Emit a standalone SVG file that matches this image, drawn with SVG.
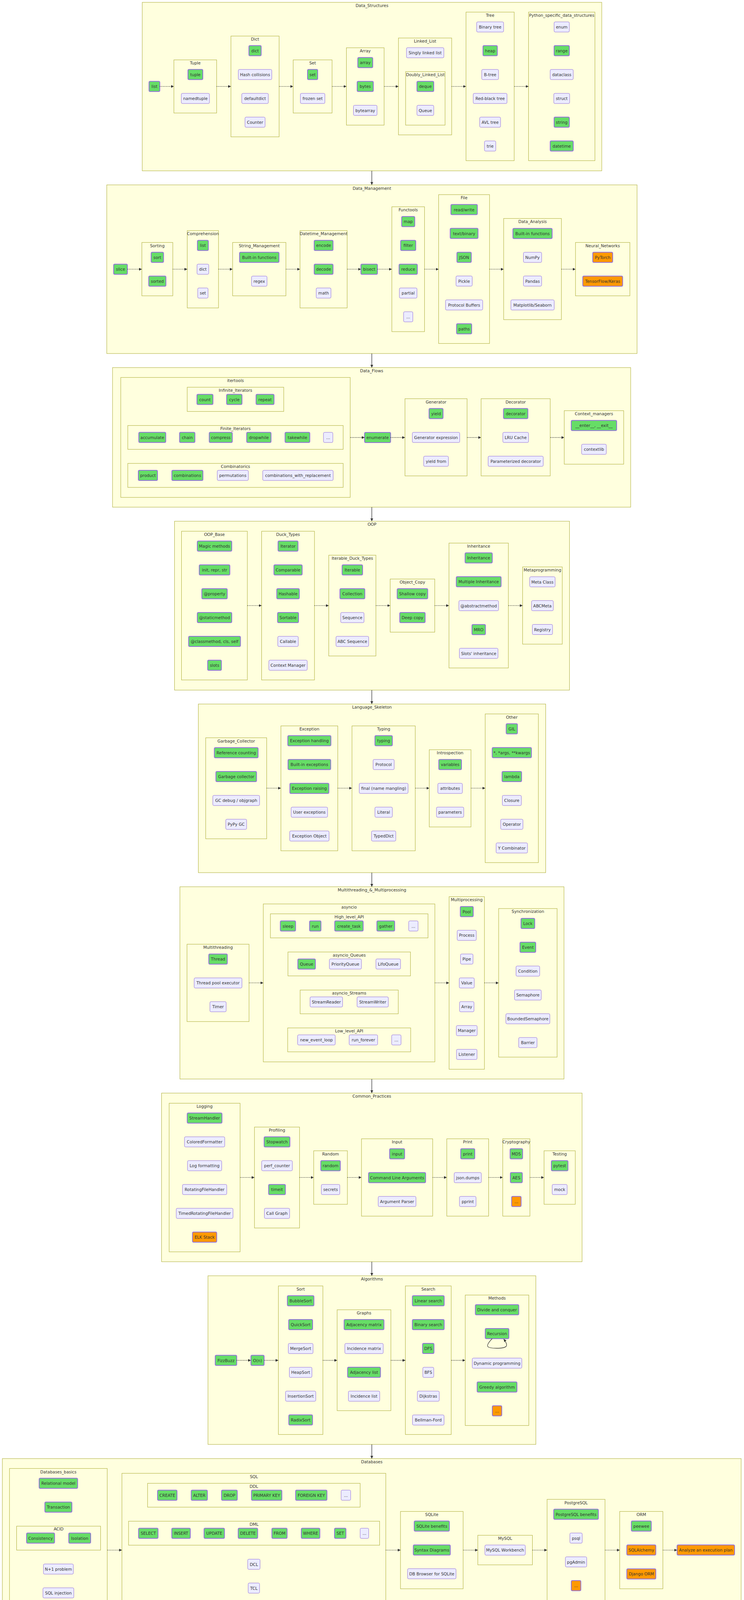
<svg xmlns="http://www.w3.org/2000/svg" width="1904" height="5794" viewBox="0 0 1904 5794">
<defs>
<style>
.c>rect{fill:#ffffde;stroke:#aaaa33;stroke-width:1}
text{font-family:"DejaVu Sans",Verdana,sans-serif;font-size:10.4px;fill:#333;text-anchor:middle;dominant-baseline:central}
.p>rect{fill:#ececff;stroke:#9370db;stroke-width:1;rx:3px}
.g>rect{fill:#66dd66;stroke:#9370db;stroke-width:2;rx:3px}
.o>rect{fill:#ff9900;stroke:#9370db;stroke-width:2;rx:3px}
.d{stroke:#333;stroke-width:1.3;stroke-dasharray:2 2;fill:none;marker-end:url(#ah)}
.s{stroke:#333;stroke-width:1.3;fill:none;marker-end:url(#ah)}
</style>
<marker id="ah" viewBox="0 0 10 10" refX="10" refY="5" markerUnits="userSpaceOnUse" markerWidth="7" markerHeight="7" orient="auto"><path d="M0,0L10,5L0,10z" fill="#333"/></marker>
</defs>
<rect width="1904" height="5794" fill="#fff"/>

<!-- ===== Data_Structures ===== -->
<g id="c_Data_Structures" class="c"><rect x="364" y="6" width="1176" height="431.3"/><text x="952" y="14">Data_Structures</text></g>
<g id="c_Tuple" class="c"><rect x="445" y="153.3" width="109.4" height="136"/><text x="499.7" y="161">Tuple</text></g>
<g id="c_Dict" class="c"><rect x="591" y="92.3" width="123.3" height="258"/><text x="652.7" y="100">Dict</text></g>
<g id="c_Set" class="c"><rect x="750.3" y="153.3" width="99.5" height="136"/><text x="800" y="161">Set</text></g>
<g id="c_Array" class="c"><rect x="886.5" y="122.3" width="96.5" height="198"/><text x="934.7" y="130">Array</text></g>
<g id="c_Linked_List" class="c"><rect x="1019.7" y="97.3" width="136.2" height="248"/><text x="1087.8" y="105">Linked_List</text></g>
<g id="c_Doubly_Linked_List" class="c"><rect x="1038" y="183.3" width="101" height="137"/><text x="1088.5" y="191">Doubly_Linked_List</text></g>
<g id="c_Tree" class="c"><rect x="1192.6" y="31" width="123.3" height="380.3"/><text x="1254.3" y="39">Tree</text></g>
<g id="c_Python_specific" class="c"><rect x="1352.6" y="31" width="169.9" height="380.3"/><text x="1437.5" y="39">Python_specific_data_structures</text></g>
<g id="n_list" class="g"><rect x="381.4" y="208.3" width="27.6" height="26"/><text x="395.2" y="221.3">list</text></g>
<g id="n_tuple" class="g"><rect x="481" y="177.7" width="38" height="26"/><text x="500" y="190.7">tuple</text></g>
<g id="n_namedtuple" class="p"><rect x="464" y="239" width="72" height="26"/><text x="500" y="252">namedtuple</text></g>
<g id="n_dict" class="g"><rect x="637" y="116.7" width="31.4" height="26"/><text x="652.7" y="129.7">dict</text></g>
<g id="n_hash" class="p"><rect x="609.9" y="177.8" width="85.7" height="26"/><text x="652.7" y="190.8">Hash collisions</text></g>
<g id="n_defaultdict" class="p"><rect x="618.7" y="239" width="68" height="26"/><text x="652.7" y="252">defaultdict</text></g>
<g id="n_counter" class="p"><rect x="627" y="299.8" width="51.4" height="26"/><text x="652.7" y="312.8">Counter</text></g>
<g id="n_set" class="g"><rect x="787" y="177.7" width="26" height="26"/><text x="800" y="190.7">set</text></g>
<g id="n_frozenset" class="p"><rect x="768.7" y="239" width="62.7" height="26"/><text x="800" y="252">frozen set</text></g>
<g id="n_array" class="g"><rect x="915.6" y="147.3" width="38.3" height="26"/><text x="934.7" y="160.3">array</text></g>
<g id="n_bytes" class="g"><rect x="914" y="208.3" width="41.4" height="26"/><text x="934.7" y="221.3">bytes</text></g>
<g id="n_bytearray" class="p"><rect x="904.5" y="269.5" width="60.4" height="26"/><text x="934.7" y="282.5">bytearray</text></g>
<g id="n_singly" class="p"><rect x="1040.2" y="122" width="95.7" height="26"/><text x="1088" y="135">Singly linked list</text></g>
<g id="n_deque" class="g"><rect x="1067" y="208.3" width="43" height="26"/><text x="1088.5" y="221.3">deque</text></g>
<g id="n_queue" class="p"><rect x="1067" y="269.5" width="43" height="26"/><text x="1088.5" y="282.5">Queue</text></g>
<g id="n_binarytree" class="p"><rect x="1219.8" y="56" width="69" height="26"/><text x="1254.3" y="69">Binary tree</text></g>
<g id="n_heap" class="g"><rect x="1236" y="116.7" width="36.7" height="26"/><text x="1254.3" y="129.7">heap</text></g>
<g id="n_btree" class="p"><rect x="1232.8" y="177.8" width="43" height="26"/><text x="1254.3" y="190.8">B-tree</text></g>
<g id="n_rbtree" class="p"><rect x="1211" y="239" width="86.5" height="26"/><text x="1254.3" y="252">Red-black tree</text></g>
<g id="n_avl" class="p"><rect x="1227.6" y="299.8" width="53.4" height="26"/><text x="1254.3" y="312.8">AVL tree</text></g>
<g id="n_trie" class="p"><rect x="1239.8" y="360.8" width="29" height="26"/><text x="1254.3" y="373.8">trie</text></g>
<g id="n_enum" class="p"><rect x="1418" y="56" width="39" height="26"/><text x="1437.5" y="69">enum</text></g>
<g id="n_range" class="g"><rect x="1418" y="116.7" width="39" height="26"/><text x="1437.5" y="129.7">range</text></g>
<g id="n_dataclass" class="p"><rect x="1408" y="177.8" width="59" height="26"/><text x="1437.5" y="190.8">dataclass</text></g>
<g id="n_struct" class="p"><rect x="1417.2" y="239" width="40.6" height="26"/><text x="1437.5" y="252">struct</text></g>
<g id="n_string" class="g"><rect x="1418" y="299.8" width="39" height="26"/><text x="1437.5" y="312.8">string</text></g>
<g id="n_datetime" class="g"><rect x="1408" y="360.8" width="59" height="26"/><text x="1437.5" y="373.8">datetime</text></g>

<!-- ===== Data_Management ===== -->
<g id="c_Data_Management" class="c"><rect x="273.2" y="473.3" width="1357.1" height="431.7"/><text x="951.8" y="481.5">Data_Management</text></g>
<g id="c_Sorting" class="c"><rect x="363" y="620.7" width="79.2" height="136.6"/><text x="402.6" y="628.5">Sorting</text></g>
<g id="c_Comprehension" class="c"><rect x="479.2" y="590.3" width="80" height="198"/><text x="519.2" y="598">Comprehension</text></g>
<g id="c_String_Management" class="c"><rect x="595.3" y="620.7" width="136.4" height="136.6"/><text x="663.5" y="628.5">String_Management</text></g>
<g id="c_Datetime_Management" class="c"><rect x="767.8" y="590.3" width="120.6" height="198"/><text x="828.1" y="598">Datetime_Management</text></g>
<g id="c_Functools" class="c"><rect x="1002.8" y="529.3" width="83.6" height="319.7"/><text x="1044.6" y="537">Functools</text></g>
<g id="c_File" class="c"><rect x="1122.5" y="498.3" width="130.3" height="381"/><text x="1187.7" y="506">File</text></g>
<g id="c_Data_Analysis" class="c"><rect x="1288.9" y="559.3" width="147.8" height="259"/><text x="1362.8" y="567">Data_Analysis</text></g>
<g id="c_Neural_Networks" class="c"><rect x="1472.8" y="620.7" width="139.1" height="136.6"/><text x="1542.4" y="628.5">Neural_Networks</text></g>
<g id="n_slice" class="g"><rect x="290.8" y="676.2" width="35.2" height="26"/><text x="308.4" y="689.2">slice</text></g>
<g id="n_sort" class="g"><rect x="386.8" y="645.7" width="31.7" height="26"/><text x="402.6" y="658.7">sort</text></g>
<g id="n_sorted" class="g"><rect x="380.6" y="706.7" width="44" height="26"/><text x="402.6" y="719.7">sorted</text></g>
<g id="n_comp_list" class="g"><rect x="505.2" y="615.2" width="28" height="26"/><text x="519.2" y="628.2">list</text></g>
<g id="n_comp_dict" class="p"><rect x="504.2" y="676.2" width="30" height="26"/><text x="519.2" y="689.2">dict</text></g>
<g id="n_comp_set" class="p"><rect x="506" y="737.2" width="26.4" height="26"/><text x="519.2" y="750.2">set</text></g>
<g id="n_str_builtin" class="g"><rect x="613" y="645.7" width="101" height="26"/><text x="663.5" y="658.7">Built-in functions</text></g>
<g id="n_regex" class="p"><rect x="643.7" y="706.8" width="39.6" height="26"/><text x="663.5" y="719.8">regex</text></g>
<g id="n_encode" class="g"><rect x="804" y="615.2" width="48.3" height="26"/><text x="828.1" y="628.2">encode</text></g>
<g id="n_decode" class="g"><rect x="804" y="676.2" width="48.3" height="26"/><text x="828.1" y="689.2">decode</text></g>
<g id="n_math" class="p"><rect x="809.2" y="737.2" width="37.8" height="26"/><text x="828.1" y="750.2">math</text></g>
<g id="n_bisect" class="g"><rect x="923.6" y="676.2" width="42.3" height="26"/><text x="944.8" y="689.2">bisect</text></g>
<g id="n_map" class="g"><rect x="1027.9" y="554.2" width="33.5" height="26"/><text x="1044.6" y="567.2">map</text></g>
<g id="n_filter" class="g"><rect x="1025.3" y="615.2" width="38.7" height="26"/><text x="1044.6" y="628.2">filter</text></g>
<g id="n_reduce" class="g"><rect x="1021.3" y="676.2" width="46.7" height="26"/><text x="1044.6" y="689.2">reduce</text></g>
<g id="n_partial" class="p"><rect x="1022.1" y="737.2" width="45" height="26"/><text x="1044.6" y="750.2">partial</text></g>
<g id="n_func_more" class="p"><rect x="1032.8" y="798" width="23.7" height="26"/><text x="1044.6" y="811">...</text></g>
<g id="n_readwrite" class="g"><rect x="1153.9" y="523.5" width="67.7" height="26"/><text x="1187.7" y="536.5">read/write</text></g>
<g id="n_textbinary" class="g"><rect x="1152.1" y="584.5" width="71.2" height="26"/><text x="1187.7" y="597.5">text/binary</text></g>
<g id="n_json" class="g"><rect x="1169.3" y="645.7" width="36.8" height="26"/><text x="1187.7" y="658.7">JSON</text></g>
<g id="n_pickle" class="p"><rect x="1167" y="706.5" width="41.5" height="26"/><text x="1187.7" y="719.5">Pickle</text></g>
<g id="n_protobuf" class="p"><rect x="1140.1" y="767.7" width="95.2" height="26"/><text x="1187.7" y="780.7">Protocol Buffers</text></g>
<g id="n_paths" class="g"><rect x="1168.4" y="828.7" width="38.7" height="26"/><text x="1187.7" y="841.7">paths</text></g>
<g id="n_da_builtin" class="g"><rect x="1312.6" y="584.7" width="100.4" height="26"/><text x="1362.8" y="597.7">Built-in functions</text></g>
<g id="n_numpy" class="p"><rect x="1339.5" y="645.8" width="46.6" height="26"/><text x="1362.8" y="658.8">NumPy</text></g>
<g id="n_pandas" class="p"><rect x="1339.5" y="706.5" width="46.6" height="26"/><text x="1362.8" y="719.5">Pandas</text></g>
<g id="n_matplotlib" class="p"><rect x="1307.4" y="767.7" width="110.9" height="26"/><text x="1362.8" y="780.7">Matplotlib/Seaborn</text></g>
<g id="n_pytorch" class="o"><rect x="1516.9" y="645.7" width="51" height="26"/><text x="1542.4" y="658.7">PyTorch</text></g>
<g id="n_tensorflow" class="o"><rect x="1491.4" y="706.7" width="102" height="26"/><text x="1542.4" y="719.7">TensorFlow/Keras</text></g>

<!-- ===== Data_Flows ===== -->
<g id="c_Data_Flows" class="c"><rect x="288" y="941" width="1326" height="357.3"/><text x="951" y="949">Data_Flows</text></g>
<g id="c_itertools" class="c"><rect x="309" y="966.3" width="587.2" height="307"/><text x="602.6" y="974">itertools</text></g>
<g id="c_Infinite_Iterators" class="c"><rect x="479.1" y="991.3" width="247" height="62"/><text x="602.6" y="999.3">Infinite_Iterators</text></g>
<g id="c_Finite_Iterators" class="c"><rect x="327" y="1089.3" width="551.2" height="61"/><text x="602.6" y="1097">Finite_Iterators</text></g>
<g id="c_Combinatorics" class="c"><rect x="327" y="1186.3" width="551.2" height="61.4"/><text x="602.6" y="1194">Combinatorics</text></g>
<g id="c_Generator" class="c"><rect x="1036.4" y="1020.7" width="158.9" height="197.6"/><text x="1115.9" y="1028.5">Generator</text></g>
<g id="c_Decorator" class="c"><rect x="1231.2" y="1020.7" width="176.9" height="197.6"/><text x="1319.7" y="1028.5">Decorator</text></g>
<g id="c_Context_managers" class="c"><rect x="1444" y="1051.3" width="152.1" height="137"/><text x="1520" y="1059">Context_managers</text></g>
<g id="n_count" class="g"><rect x="504" y="1009.5" width="41" height="26"/><text x="524.5" y="1022.5">count</text></g>
<g id="n_cycle" class="g"><rect x="580" y="1009.5" width="39.3" height="26"/><text x="599.7" y="1022.5">cycle</text></g>
<g id="n_repeat" class="g"><rect x="655.3" y="1009.5" width="46" height="26"/><text x="678.3" y="1022.5">repeat</text></g>
<g id="n_accumulate" class="g"><rect x="355.2" y="1106.8" width="69" height="26"/><text x="389.7" y="1119.8">accumulate</text></g>
<g id="n_chain" class="g"><rect x="459.5" y="1106.8" width="39.3" height="26"/><text x="479.2" y="1119.8">chain</text></g>
<g id="n_compress" class="g"><rect x="535.5" y="1106.8" width="59" height="26"/><text x="565" y="1119.8">compress</text></g>
<g id="n_dropwhile" class="g"><rect x="631.3" y="1106.8" width="62.3" height="26"/><text x="662.5" y="1119.8">dropwhile</text></g>
<g id="n_takewhile" class="g"><rect x="729.5" y="1106.8" width="63.3" height="26"/><text x="761.2" y="1119.8">takewhile</text></g>
<g id="n_finite_more" class="p"><rect x="827.8" y="1106.8" width="24" height="26"/><text x="839.8" y="1119.8">...</text></g>
<g id="n_product" class="g"><rect x="354" y="1204" width="49" height="26"/><text x="378.5" y="1217">product</text></g>
<g id="n_combinations" class="g"><rect x="439.8" y="1204" width="79.5" height="26"/><text x="479.6" y="1217">combinations</text></g>
<g id="n_permutations" class="p"><rect x="556" y="1204" width="79.5" height="26"/><text x="595.8" y="1217">permutations</text></g>
<g id="n_cwr" class="p"><rect x="672.3" y="1204" width="180.3" height="26"/><text x="762.5" y="1217">combinations_with_replacement</text></g>
<g id="n_enumerate" class="g"><rect x="933" y="1107" width="66.6" height="26"/><text x="966.3" y="1120">enumerate</text></g>
<g id="n_yield" class="g"><rect x="1098" y="1045.7" width="35.8" height="26"/><text x="1115.9" y="1058.7">yield</text></g>
<g id="n_genexpr" class="p"><rect x="1055.2" y="1106.8" width="121.3" height="26"/><text x="1115.9" y="1119.8">Generator expression</text></g>
<g id="n_yieldfrom" class="p"><rect x="1084.2" y="1167.8" width="63.3" height="26"/><text x="1115.9" y="1180.8">yield from</text></g>
<g id="n_decorator" class="g"><rect x="1288.5" y="1045.7" width="62.4" height="26"/><text x="1319.7" y="1058.7">decorator</text></g>
<g id="n_lru" class="p"><rect x="1286.8" y="1106.8" width="65.8" height="26"/><text x="1319.7" y="1119.8">LRU Cache</text></g>
<g id="n_paramdec" class="p"><rect x="1249.2" y="1167.8" width="141" height="26"/><text x="1319.7" y="1180.8">Parameterized decorator</text></g>
<g id="n_enterexit" class="g"><rect x="1461.9" y="1076.3" width="116.2" height="26"/><text x="1520" y="1089.3">__enter__, __exit__</text></g>
<g id="n_contextlib" class="p"><rect x="1488.4" y="1137.2" width="63.2" height="26"/><text x="1520" y="1150.2">contextlib</text></g>

<!-- ===== OOP ===== -->
<g id="c_OOP" class="c"><rect x="446.6" y="1334.3" width="1010.8" height="432.4"/><text x="952" y="1342">OOP</text></g>
<g id="c_OOP_Base" class="c"><rect x="464.5" y="1360" width="168.5" height="380.7"/><text x="548.7" y="1368">OOP_Base</text></g>
<g id="c_Duck_Types" class="c"><rect x="669.5" y="1360" width="135.3" height="380.7"/><text x="737.1" y="1368">Duck_Types</text></g>
<g id="c_Iterable_Duck_Types" class="c"><rect x="841.3" y="1421.3" width="120.7" height="258"/><text x="901.7" y="1429">Iterable_Duck_Types</text></g>
<g id="c_Object_Copy" class="c"><rect x="998.5" y="1482.3" width="114.1" height="136"/><text x="1055.5" y="1490">Object_Copy</text></g>
<g id="c_Inheritance" class="c"><rect x="1149" y="1390.3" width="152" height="319.7"/><text x="1225" y="1398">Inheritance</text></g>
<g id="c_Metaprogramming" class="c"><rect x="1337.4" y="1451.3" width="101.5" height="197.7"/><text x="1388.1" y="1459.3">Metaprogramming</text></g>
<g id="n_magic" class="g"><rect x="504.9" y="1385" width="88.2" height="26"/><text x="549" y="1398">Magic methods</text></g>
<g id="n_initrepr" class="g"><rect x="509.9" y="1446" width="78.3" height="26"/><text x="549" y="1459">init, repr, str</text></g>
<g id="n_property" class="g"><rect x="516.5" y="1507" width="65" height="26"/><text x="549" y="1520">@property</text></g>
<g id="n_staticmethod" class="g"><rect x="504.9" y="1568" width="88.2" height="26"/><text x="549" y="1581">@staticmethod</text></g>
<g id="n_classmethod" class="g"><rect x="482.7" y="1629" width="132.7" height="26"/><text x="549" y="1642">@classmethod, cls, self</text></g>
<g id="n_slots" class="g"><rect x="531.4" y="1690" width="35.2" height="26"/><text x="549" y="1703">slots</text></g>
<g id="n_iterator" class="g"><rect x="711.6" y="1385" width="51" height="26"/><text x="737.1" y="1398">Iterator</text></g>
<g id="n_comparable" class="g"><rect x="701" y="1446" width="72.3" height="26"/><text x="737.1" y="1459">Comparable</text></g>
<g id="n_hashable" class="g"><rect x="708.3" y="1507" width="57.7" height="26"/><text x="737.1" y="1520">Hashable</text></g>
<g id="n_sortable" class="g"><rect x="710.3" y="1568" width="53.7" height="26"/><text x="737.1" y="1581">Sortable</text></g>
<g id="n_callable" class="p"><rect x="710.9" y="1629" width="52.4" height="26"/><text x="737.1" y="1642">Callable</text></g>
<g id="n_ctxmgr" class="p"><rect x="688" y="1690" width="98.2" height="26"/><text x="737.1" y="1703">Context Manager</text></g>
<g id="n_iterable" class="g"><rect x="875.5" y="1446" width="52.4" height="26"/><text x="901.7" y="1459">Iterable</text></g>
<g id="n_collection" class="g"><rect x="869.9" y="1507" width="63.7" height="26"/><text x="901.7" y="1520">Collection</text></g>
<g id="n_sequence" class="p"><rect x="871.9" y="1568" width="59.7" height="26"/><text x="901.7" y="1581">Sequence</text></g>
<g id="n_abcsequence" class="p"><rect x="859.9" y="1629" width="83.6" height="26"/><text x="901.7" y="1642">ABC Sequence</text></g>
<g id="n_shallow" class="g"><rect x="1016.4" y="1507" width="78.2" height="26"/><text x="1055.5" y="1520">Shallow copy</text></g>
<g id="n_deep" class="g"><rect x="1023" y="1568" width="65" height="26"/><text x="1055.5" y="1581">Deep copy</text></g>
<g id="n_inheritance" class="g"><rect x="1190.2" y="1415.3" width="69.6" height="26"/><text x="1225" y="1428.3">Inheritance</text></g>
<g id="n_multinherit" class="g"><rect x="1167.7" y="1476.3" width="114.7" height="26"/><text x="1225" y="1489.3">Multiple Inheritance</text></g>
<g id="n_abstract" class="p"><rect x="1174.3" y="1537.5" width="101.5" height="26"/><text x="1225" y="1550.5">@abstractmethod</text></g>
<g id="n_mro" class="g"><rect x="1207.8" y="1598.7" width="34.5" height="26"/><text x="1225" y="1611.7">MRO</text></g>
<g id="n_slotsinh" class="p"><rect x="1175.6" y="1659.5" width="98.8" height="26"/><text x="1225" y="1672.5">Slots' inheritance</text></g>
<g id="n_metaclass" class="p"><rect x="1355.6" y="1476.5" width="65" height="26"/><text x="1388.1" y="1489.5">Meta Class</text></g>
<g id="n_abcmeta" class="p"><rect x="1360.3" y="1537.5" width="55.7" height="26"/><text x="1388.1" y="1550.5">ABCMeta</text></g>
<g id="n_registry" class="p"><rect x="1362.3" y="1598.5" width="51.7" height="26"/><text x="1388.1" y="1611.5">Registry</text></g>

<!-- ===== Language_Skeleton ===== -->
<g id="c_Language_Skeleton" class="c"><rect x="507.6" y="1802.3" width="888.9" height="431.7"/><text x="952" y="1810">Language_Skeleton</text></g>
<g id="c_Garbage_Collector" class="c"><rect x="526.4" y="1888.7" width="156.1" height="258.6"/><text x="604.5" y="1896.5">Garbage_Collector</text></g>
<g id="c_Exception" class="c"><rect x="718.9" y="1858.3" width="145.5" height="319.7"/><text x="791.7" y="1866">Exception</text></g>
<g id="c_Typing" class="c"><rect x="900.8" y="1858.3" width="161.9" height="319.7"/><text x="981.8" y="1866">Typing</text></g>
<g id="c_Introspection" class="c"><rect x="1098.5" y="1919.3" width="106.8" height="197.7"/><text x="1151.9" y="1927">Introspection</text></g>
<g id="c_Other" class="c"><rect x="1241.7" y="1827.7" width="136.1" height="380.6"/><text x="1309.8" y="1835.5">Other</text></g>
<g id="n_refcount" class="g"><rect x="548.5" y="1914" width="112" height="26"/><text x="604.5" y="1927">Reference counting</text></g>
<g id="n_gc" class="g"><rect x="552.5" y="1975" width="104" height="26"/><text x="604.5" y="1988">Garbage collector</text></g>
<g id="n_gcdebug" class="p"><rect x="544.6" y="2036.2" width="119.7" height="26"/><text x="604.5" y="2049.2">GC debug / objgraph</text></g>
<g id="n_pypygc" class="p"><rect x="577.8" y="2097.2" width="53.3" height="26"/><text x="604.5" y="2110.2">PyPy GC</text></g>
<g id="n_exchandling" class="g"><rect x="736.5" y="1883.3" width="110.3" height="26"/><text x="791.7" y="1896.3">Exception handling</text></g>
<g id="n_builtinexc" class="g"><rect x="737.1" y="1944.2" width="109.2" height="26"/><text x="791.7" y="1957.2">Built-in exceptions</text></g>
<g id="n_excraising" class="g"><rect x="741.8" y="2005.3" width="99.8" height="26"/><text x="791.7" y="2018.3">Exception raising</text></g>
<g id="n_userexc" class="p"><rect x="745" y="2066.2" width="93.3" height="26"/><text x="791.7" y="2079.2">User exceptions</text></g>
<g id="n_excobj" class="p"><rect x="741.3" y="2127.2" width="100.8" height="26"/><text x="791.7" y="2140.2">Exception Object</text></g>
<g id="n_typing" class="g"><rect x="959.5" y="1883.3" width="44.6" height="26"/><text x="981.8" y="1896.3">typing</text></g>
<g id="n_protocol" class="p"><rect x="954.8" y="1944.2" width="54" height="26"/><text x="981.8" y="1957.2">Protocol</text></g>
<g id="n_final" class="p"><rect x="919.3" y="2005.2" width="125" height="26"/><text x="981.8" y="2018.2">final (name mangling)</text></g>
<g id="n_literal" class="p"><rect x="959.5" y="2066.2" width="44.6" height="26"/><text x="981.8" y="2079.2">Literal</text></g>
<g id="n_typeddict" class="p"><rect x="950.7" y="2127.2" width="62.2" height="26"/><text x="981.8" y="2140.2">TypedDict</text></g>
<g id="n_variables" class="g"><rect x="1122.9" y="1944.2" width="58.1" height="26"/><text x="1151.9" y="1957.2">variables</text></g>
<g id="n_attributes" class="p"><rect x="1120.5" y="2005.2" width="62.8" height="26"/><text x="1151.9" y="2018.2">attributes</text></g>
<g id="n_parameters" class="p"><rect x="1117" y="2066.2" width="69.8" height="26"/><text x="1151.9" y="2079.2">parameters</text></g>
<g id="n_gil" class="g"><rect x="1295.4" y="1852.7" width="28.8" height="26"/><text x="1309.8" y="1865.7">GIL</text></g>
<g id="n_args" class="g"><rect x="1259.6" y="1913.7" width="100.4" height="26"/><text x="1309.8" y="1926.7">*, *args, **kwargs</text></g>
<g id="n_lambda" class="g"><rect x="1284.8" y="1975" width="50" height="26"/><text x="1309.8" y="1988">lambda</text></g>
<g id="n_closure" class="p"><rect x="1285.5" y="2036.2" width="48.7" height="26"/><text x="1309.8" y="2049.2">Closure</text></g>
<g id="n_operator" class="p"><rect x="1281.3" y="2097.2" width="57" height="26"/><text x="1309.8" y="2110.2">Operator</text></g>
<g id="n_ycomb" class="p"><rect x="1269.6" y="2157.8" width="80.4" height="26"/><text x="1309.8" y="2170.8">Y Combinator</text></g>

<!-- ===== Multithreading_&_Multiprocessing ===== -->
<g id="c_MT_MP" class="c"><rect x="460.4" y="2270.1" width="982.9" height="492.2"/><text x="952" y="2277.5">Multithreading_&amp;_Multiprocessing</text></g>
<g id="c_Multithreading" class="c"><rect x="478.6" y="2417.2" width="158.7" height="198"/><text x="558" y="2425">Multithreading</text></g>
<g id="c_asyncio" class="c"><rect x="673.8" y="2314.1" width="439.1" height="404.3"/><text x="893.3" y="2321.5">asyncio</text></g>
<g id="c_High_level_API" class="c"><rect x="692" y="2339.4" width="403.3" height="61.6"/><text x="893.7" y="2347.2">High_level_API</text></g>
<g id="c_asyncio_Queues" class="c"><rect x="736.9" y="2437.1" width="313.5" height="61.2"/><text x="893.7" y="2444.6">asyncio_Queues</text></g>
<g id="c_asyncio_Streams" class="c"><rect x="768.1" y="2534.5" width="251.1" height="60.8"/><text x="893.7" y="2541.6">asyncio_Streams</text></g>
<g id="c_Low_level_API" class="c"><rect x="736.2" y="2631.5" width="314.8" height="61.2"/><text x="893.6" y="2639">Low_level_API</text></g>
<g id="c_Multiprocessing" class="c"><rect x="1149.3" y="2295.5" width="90.4" height="441.8"/><text x="1194.5" y="2303.3">Multiprocessing</text></g>
<g id="c_Synchronization" class="c"><rect x="1276.1" y="2325.9" width="149.6" height="380.3"/><text x="1350.9" y="2333.3">Synchronization</text></g>
<g id="n_thread" class="g"><rect x="534.3" y="2442.3" width="47.4" height="26"/><text x="558" y="2455.3">Thread</text></g>
<g id="n_tpe" class="p"><rect x="496.9" y="2503.4" width="122.3" height="26"/><text x="558" y="2516.4">Thread pool executor</text></g>
<g id="n_timer" class="p"><rect x="537.2" y="2564.2" width="41.6" height="26"/><text x="558" y="2577.2">Timer</text></g>
<g id="n_sleep" class="g"><rect x="717.4" y="2357.5" width="39" height="26"/><text x="736.9" y="2370.5">sleep</text></g>
<g id="n_run" class="g"><rect x="792.2" y="2357.5" width="29.2" height="26"/><text x="806.8" y="2370.5">run</text></g>
<g id="n_create_task" class="g"><rect x="856.6" y="2357.5" width="72.8" height="26"/><text x="893" y="2370.5">create_task</text></g>
<g id="n_gather" class="g"><rect x="964.5" y="2357.5" width="45.5" height="26"/><text x="987.2" y="2370.5">gather</text></g>
<g id="n_hl_more" class="p"><rect x="1045.9" y="2357.5" width="24" height="26"/><text x="1057.9" y="2370.5">...</text></g>
<g id="n_aqueue" class="g"><rect x="762.2" y="2454.9" width="44.9" height="26"/><text x="784.6" y="2467.9">Queue</text></g>
<g id="n_priorityqueue" class="p"><rect x="842.9" y="2454.9" width="82" height="26"/><text x="883.9" y="2467.9">PriorityQueue</text></g>
<g id="n_lifoqueue" class="p"><rect x="962" y="2454.9" width="63" height="26"/><text x="993.5" y="2467.9">LifoQueue</text></g>
<g id="n_streamreader" class="p"><rect x="793.5" y="2552" width="83.2" height="26"/><text x="835.1" y="2565">StreamReader</text></g>
<g id="n_streamwriter" class="p"><rect x="913.8" y="2552" width="80" height="26"/><text x="953.8" y="2565">StreamWriter</text></g>
<g id="n_neweventloop" class="p"><rect x="761.6" y="2649.2" width="96.3" height="26"/><text x="809.8" y="2662.2">new_event_loop</text></g>
<g id="n_runforever" class="p"><rect x="893.5" y="2649.2" width="72.9" height="26"/><text x="930" y="2662.2">run_forever</text></g>
<g id="n_ll_more" class="p"><rect x="1002.3" y="2649.2" width="24" height="26"/><text x="1014.3" y="2662.2">...</text></g>
<g id="n_pool" class="g"><rect x="1177.9" y="2320.7" width="33.2" height="26"/><text x="1194.5" y="2333.7">Pool</text></g>
<g id="n_process" class="p"><rect x="1170" y="2381.4" width="48.9" height="26"/><text x="1194.5" y="2394.4">Process</text></g>
<g id="n_pipe" class="p"><rect x="1178.5" y="2442.2" width="32" height="26"/><text x="1194.5" y="2455.2">Pipe</text></g>
<g id="n_value" class="p"><rect x="1175.3" y="2503.4" width="38.4" height="26"/><text x="1194.5" y="2516.4">Value</text></g>
<g id="n_mparray" class="p"><rect x="1176" y="2564.2" width="37" height="26"/><text x="1194.5" y="2577.2">Array</text></g>
<g id="n_manager" class="p"><rect x="1167.8" y="2625.4" width="53.3" height="26"/><text x="1194.5" y="2638.4">Manager</text></g>
<g id="n_listener" class="p"><rect x="1168.2" y="2686.3" width="52.6" height="26"/><text x="1194.5" y="2699.3">Listener</text></g>
<g id="n_lock" class="g"><rect x="1333.3" y="2351" width="35.1" height="26"/><text x="1350.9" y="2364">Lock</text></g>
<g id="n_event" class="g"><rect x="1330.7" y="2412" width="40.3" height="26"/><text x="1350.9" y="2425">Event</text></g>
<g id="n_condition" class="p"><rect x="1320.6" y="2473" width="60.5" height="26"/><text x="1350.9" y="2486">Condition</text></g>
<g id="n_semaphore" class="p"><rect x="1316.7" y="2534.2" width="68.4" height="26"/><text x="1350.9" y="2547.2">Semaphore</text></g>
<g id="n_boundedsem" class="p"><rect x="1294.6" y="2595" width="112.5" height="26"/><text x="1350.9" y="2608">BoundedSemaphore</text></g>
<g id="n_barrier" class="p"><rect x="1327.4" y="2656" width="46.9" height="26"/><text x="1350.9" y="2669">Barrier</text></g>

<!-- ===== Common_Practices ===== -->
<g id="c_Common_Practices" class="c"><rect x="413.5" y="2798.3" width="1076.1" height="431.7"/><text x="951.5" y="2806">Common_Practices</text></g>
<g id="c_Logging" class="c"><rect x="432.9" y="2824.3" width="181.5" height="380.4"/><text x="523.6" y="2831.5">Logging</text></g>
<g id="c_Profiling" class="c"><rect x="651.2" y="2885.3" width="115.4" height="258.4"/><text x="708.9" y="2892.5">Profiling</text></g>
<g id="c_Random" class="c"><rect x="802.8" y="2946" width="86.2" height="137"/><text x="845.9" y="2953.5">Random</text></g>
<g id="c_Input" class="c"><rect x="925.1" y="2915.3" width="182.2" height="198"/><text x="1016.2" y="2923.3">Input</text></g>
<g id="c_Print" class="c"><rect x="1143.4" y="2915.3" width="107.1" height="198"/><text x="1197" y="2923.3">Print</text></g>
<g id="c_Cryptography" class="c"><rect x="1286.6" y="2915.3" width="69.5" height="198"/><text x="1321.4" y="2923.3">Cryptography</text></g>
<g id="c_Testing" class="c"><rect x="1392.3" y="2946" width="79.9" height="137"/><text x="1432.3" y="2953.5">Testing</text></g>
<g id="n_streamhandler" class="g"><rect x="479.1" y="2849.2" width="89" height="26"/><text x="523.6" y="2862.2">StreamHandler</text></g>
<g id="n_coloredfmt" class="p"><rect x="472.1" y="2910.2" width="103" height="26"/><text x="523.6" y="2923.2">ColoredFormatter</text></g>
<g id="n_logfmt" class="p"><rect x="479.8" y="2971.2" width="87.6" height="26"/><text x="523.6" y="2984.2">Log formatting</text></g>
<g id="n_rotating" class="p"><rect x="467" y="3032.2" width="113.3" height="26"/><text x="523.6" y="3045.2">RotatingFileHandler</text></g>
<g id="n_timedrotating" class="p"><rect x="451" y="3093.2" width="145.3" height="26"/><text x="523.6" y="3106.2">TimedRotatingFileHandler</text></g>
<g id="n_elk" class="o"><rect x="492.6" y="3154" width="62" height="26"/><text x="523.6" y="3167">ELK Stack</text></g>
<g id="n_stopwatch" class="g"><rect x="675.9" y="2910.3" width="66" height="26"/><text x="708.9" y="2923.3">Stopwatch</text></g>
<g id="n_perfcounter" class="p"><rect x="669.6" y="2971.2" width="78.6" height="26"/><text x="708.9" y="2984.2">perf_counter</text></g>
<g id="n_timeit" class="g"><rect x="687.4" y="3032.3" width="43" height="26"/><text x="708.9" y="3045.3">timeit</text></g>
<g id="n_callgraph" class="p"><rect x="676.6" y="3093.2" width="64.6" height="26"/><text x="708.9" y="3106.2">Call Graph</text></g>
<g id="n_random" class="g"><rect x="820.9" y="2971.3" width="50" height="26"/><text x="845.9" y="2984.3">random</text></g>
<g id="n_secrets" class="p"><rect x="822.3" y="3032.2" width="47.3" height="26"/><text x="845.9" y="3045.2">secrets</text></g>
<g id="n_input" class="g"><rect x="997.1" y="2940.7" width="38.3" height="26"/><text x="1016.2" y="2953.7">input</text></g>
<g id="n_cmdargs" class="g"><rect x="943.2" y="3001.7" width="146" height="26"/><text x="1016.2" y="3014.7">Command Line Arguments</text></g>
<g id="n_argparser" class="p"><rect x="967.9" y="3062.8" width="96.6" height="26"/><text x="1016.2" y="3075.8">Argument Parser</text></g>
<g id="n_print" class="g"><rect x="1179" y="2940.7" width="36" height="26"/><text x="1197" y="2953.7">print</text></g>
<g id="n_jsondumps" class="p"><rect x="1162.3" y="3001.8" width="69.5" height="26"/><text x="1197" y="3014.8">json.dumps</text></g>
<g id="n_pprint" class="p"><rect x="1175.8" y="3062.8" width="42.4" height="26"/><text x="1197" y="3075.8">pprint</text></g>
<g id="n_md5" class="g"><rect x="1305.4" y="2940.7" width="32" height="26"/><text x="1321.4" y="2953.7">MD5</text></g>
<g id="n_aes" class="g"><rect x="1306.1" y="3001.7" width="30.6" height="26"/><text x="1321.4" y="3014.7">AES</text></g>
<g id="n_crypto_more" class="o"><rect x="1309.3" y="3062.7" width="24.3" height="26"/><text x="1321.4" y="3075.7">...</text></g>
<g id="n_pytest" class="g"><rect x="1411" y="2971.3" width="42.5" height="26"/><text x="1432.3" y="2984.3">pytest</text></g>
<g id="n_mock" class="p"><rect x="1413.1" y="3032.2" width="38.3" height="26"/><text x="1432.3" y="3045.2">mock</text></g>

<!-- ===== Algorithms ===== -->
<g id="c_Algorithms" class="c"><rect x="532.2" y="3266" width="839.1" height="431.7"/><text x="951.8" y="3274">Algorithms</text></g>
<g id="c_Sort" class="c"><rect x="712.4" y="3292" width="113.9" height="380.3"/><text x="769.4" y="3299.5">Sort</text></g>
<g id="c_Graphs" class="c"><rect x="862.8" y="3353" width="137.5" height="258.3"/><text x="931.6" y="3360.5">Graphs</text></g>
<g id="c_Search" class="c"><rect x="1037.4" y="3292" width="117.3" height="380.3"/><text x="1096" y="3299.5">Search</text></g>
<g id="c_Methods" class="c"><rect x="1190.6" y="3315.3" width="162.7" height="334"/><text x="1272" y="3322.5">Methods</text></g>
<g id="n_fizzbuzz" class="g"><rect x="550.8" y="3469.5" width="55" height="26"/><text x="578.3" y="3482.5">FizzBuzz</text></g>
<g id="n_on" class="g"><rect x="642.2" y="3469.5" width="33.7" height="26"/><text x="659" y="3482.5">O(n)</text></g>
<g id="n_bubblesort" class="g"><rect x="735.4" y="3317" width="68" height="26"/><text x="769.4" y="3330">BubbleSort</text></g>
<g id="n_quicksort" class="g"><rect x="738.8" y="3378" width="61.2" height="26"/><text x="769.4" y="3391">QuickSort</text></g>
<g id="n_mergesort" class="p"><rect x="737.8" y="3439.2" width="63.3" height="26"/><text x="769.4" y="3452.2">MergeSort</text></g>
<g id="n_heapsort" class="p"><rect x="740.5" y="3500.2" width="57.8" height="26"/><text x="769.4" y="3513.2">HeapSort</text></g>
<g id="n_insertionsort" class="p"><rect x="730.7" y="3561.2" width="77.4" height="26"/><text x="769.4" y="3574.2">InsertionSort</text></g>
<g id="n_radixsort" class="g"><rect x="739.1" y="3622" width="60.7" height="26"/><text x="769.4" y="3635">RadixSort</text></g>
<g id="n_adjmatrix" class="g"><rect x="880.6" y="3378" width="102" height="26"/><text x="931.6" y="3391">Adjacency matrix</text></g>
<g id="n_incmatrix" class="p"><rect x="882.5" y="3439.2" width="98.2" height="26"/><text x="931.6" y="3452.2">Incidence matrix</text></g>
<g id="n_adjlist" class="g"><rect x="889.5" y="3500" width="84.2" height="26"/><text x="931.6" y="3513">Adjacency list</text></g>
<g id="n_inclist" class="p"><rect x="891.5" y="3561.2" width="80.3" height="26"/><text x="931.6" y="3574.2">Incidence list</text></g>
<g id="n_linearsearch" class="g"><rect x="1055.3" y="3317" width="81.4" height="26"/><text x="1096" y="3330">Linear search</text></g>
<g id="n_binarysearch" class="g"><rect x="1055.3" y="3378" width="81.4" height="26"/><text x="1096" y="3391">Binary search</text></g>
<g id="n_dfs" class="g"><rect x="1081.4" y="3439" width="29.2" height="26"/><text x="1096" y="3452">DFS</text></g>
<g id="n_bfs" class="p"><rect x="1082" y="3500.2" width="28" height="26"/><text x="1096" y="3513.2">BFS</text></g>
<g id="n_dijkstras" class="p"><rect x="1068" y="3561.2" width="56.1" height="26"/><text x="1096" y="3574.2">Dijkstras</text></g>
<g id="n_bellmanford" class="p"><rect x="1055.6" y="3622.2" width="80.8" height="26"/><text x="1096" y="3635.2">Bellman-Ford</text></g>
<g id="n_divide" class="g"><rect x="1216.5" y="3340" width="111.1" height="26"/><text x="1272" y="3353">Divide and conquer</text></g>
<g id="n_recursion" class="g"><rect x="1241.8" y="3401" width="60.5" height="26"/><text x="1272" y="3414">Recursion</text></g>
<g id="n_dynprog" class="p"><rect x="1208.5" y="3476.7" width="127" height="26"/><text x="1272" y="3489.7">Dynamic programming</text></g>
<g id="n_greedy" class="g"><rect x="1221" y="3537.7" width="102" height="26"/><text x="1272" y="3550.7">Greedy algorithm</text></g>
<g id="n_methods_more" class="o"><rect x="1259.9" y="3598.7" width="24.2" height="26"/><text x="1272" y="3611.7">...</text></g>

<!-- ===== Databases ===== -->
<g id="c_Databases" class="c"><rect x="6" y="3734" width="1890.7" height="467.7"/><text x="951.4" y="3742">Databases</text></g>
<g id="c_Databases_basics" class="c"><rect x="24.3" y="3759.3" width="250.1" height="416.7"/><text x="149.4" y="3767.5">Databases_basics</text></g>
<g id="c_ACID" class="c"><rect x="42.5" y="3907" width="214.9" height="61.3"/><text x="150" y="3914">ACID</text></g>
<g id="c_SQL" class="c"><rect x="312" y="3771.7" width="675.3" height="392.6"/><text x="649.7" y="3779.5">SQL</text></g>
<g id="c_DDL" class="c"><rect x="377.7" y="3797.3" width="544" height="61"/><text x="649.7" y="3804.5">DDL</text></g>
<g id="c_DML" class="c"><rect x="329" y="3894.3" width="642.5" height="61.4"/><text x="650.2" y="3902">DML</text></g>
<g id="c_SQLite" class="c"><rect x="1024.9" y="3869.3" width="160.3" height="198"/><text x="1105" y="3876.5">SQLite</text></g>
<g id="c_MySQL" class="c"><rect x="1222.8" y="3930.3" width="139.7" height="75.7"/><text x="1292.6" y="3938">MySQL</text></g>
<g id="c_PostgreSQL" class="c"><rect x="1400.1" y="3838.3" width="148.2" height="259"/><text x="1474.2" y="3846.5">PostgreSQL</text></g>
<g id="c_ORM" class="c"><rect x="1585.9" y="3869.3" width="110.5" height="198"/><text x="1641.2" y="3876.5">ORM</text></g>
<g id="n_relational" class="g"><rect x="100.2" y="3784.3" width="98.4" height="26"/><text x="149.4" y="3797.3">Relational model</text></g>
<g id="n_transaction" class="g"><rect x="114.8" y="3845.3" width="69.2" height="26"/><text x="149.4" y="3858.3">Transaction</text></g>
<g id="n_consistency" class="g"><rect x="68" y="3924.5" width="71.6" height="26"/><text x="103.8" y="3937.5">Consistency</text></g>
<g id="n_isolation" class="g"><rect x="176" y="3924.5" width="56" height="26"/><text x="204" y="3937.5">Isolation</text></g>
<g id="n_nplus1" class="p"><rect x="111.2" y="4003.8" width="76.5" height="26"/><text x="149.4" y="4016.8">N+1 problem</text></g>
<g id="n_sqlinjection" class="p"><rect x="109.9" y="4064.8" width="79" height="26"/><text x="149.4" y="4077.8">SQL injection</text></g>
<g id="n_nosql" class="o"><rect x="127.6" y="4125.7" width="43.7" height="26"/><text x="149.4" y="4138.7">NoSQL</text></g>
<g id="n_create" class="g"><rect x="403.2" y="3814.7" width="49.8" height="26"/><text x="428.1" y="3827.7">CREATE</text></g>
<g id="n_alter" class="g"><rect x="489.4" y="3814.7" width="41.3" height="26"/><text x="510" y="3827.7">ALTER</text></g>
<g id="n_drop" class="g"><rect x="567" y="3814.7" width="40.2" height="26"/><text x="587.1" y="3827.7">DROP</text></g>
<g id="n_primarykey" class="g"><rect x="643.6" y="3814.7" width="77.7" height="26"/><text x="682.5" y="3827.7">PRIMARY KEY</text></g>
<g id="n_foreignkey" class="g"><rect x="756.5" y="3814.7" width="80.2" height="26"/><text x="796.6" y="3827.7">FOREIGN KEY</text></g>
<g id="n_ddl_more" class="p"><rect x="873" y="3814.7" width="24.4" height="26"/><text x="885.2" y="3827.7">...</text></g>
<g id="n_select" class="g"><rect x="354.6" y="3912.3" width="49.8" height="26"/><text x="379.5" y="3925.3">SELECT</text></g>
<g id="n_insert" class="g"><rect x="439.6" y="3912.3" width="47.4" height="26"/><text x="463.3" y="3925.3">INSERT</text></g>
<g id="n_update" class="g"><rect x="522.2" y="3912.3" width="52.2" height="26"/><text x="548.3" y="3925.3">UPDATE</text></g>
<g id="n_delete" class="g"><rect x="609.6" y="3912.3" width="49.8" height="26"/><text x="634.5" y="3925.3">DELETE</text></g>
<g id="n_from" class="g"><rect x="695.8" y="3912.3" width="38.9" height="26"/><text x="715.3" y="3925.3">FROM</text></g>
<g id="n_where" class="g"><rect x="771.1" y="3912.3" width="47.4" height="26"/><text x="794.8" y="3925.3">WHERE</text></g>
<g id="n_sqlset" class="g"><rect x="856.1" y="3912.3" width="29.2" height="26"/><text x="870.7" y="3925.3">SET</text></g>
<g id="n_dml_more" class="p"><rect x="921.7" y="3912.3" width="21.8" height="26"/><text x="932.6" y="3925.3">...</text></g>
<g id="n_dcl" class="p"><rect x="633.9" y="3991.5" width="31.6" height="26"/><text x="649.7" y="4004.5">DCL</text></g>
<g id="n_tcl" class="p"><rect x="635.1" y="4052.5" width="29.2" height="26"/><text x="649.7" y="4065.5">TCL</text></g>
<g id="n_sqlstandard" class="o"><rect x="610.9" y="4113.3" width="77.7" height="26"/><text x="649.7" y="4126.3">SQL standard</text></g>
<g id="n_sqlitebenefits" class="g"><rect x="1060" y="3893.8" width="90" height="26"/><text x="1105" y="3906.8">SQLite benefits</text></g>
<g id="n_syntaxdiagrams" class="g"><rect x="1057.7" y="3955" width="94.7" height="26"/><text x="1105" y="3968">Syntax Diagrams</text></g>
<g id="n_dbbrowser" class="p"><rect x="1043" y="4015.8" width="124" height="26"/><text x="1105" y="4028.8">DB Browser for SQLite</text></g>
<g id="n_mysqlwb" class="p"><rect x="1241" y="3955.2" width="103.3" height="26"/><text x="1292.6" y="3968.2">MySQL Workbench</text></g>
<g id="n_pgbenefits" class="g"><rect x="1417.1" y="3863.5" width="114.2" height="26"/><text x="1474.2" y="3876.5">PostgreSQL benefits</text></g>
<g id="n_psql" class="p"><rect x="1458.4" y="3924.5" width="31.6" height="26"/><text x="1474.2" y="3937.5">psql</text></g>
<g id="n_pgadmin" class="p"><rect x="1446.9" y="3985.5" width="54.6" height="26"/><text x="1474.2" y="3998.5">pgAdmin</text></g>
<g id="n_pg_more" class="o"><rect x="1462" y="4046.2" width="24.4" height="26"/><text x="1474.2" y="4059.2">...</text></g>
<g id="n_peewee" class="g"><rect x="1615.7" y="3893.8" width="51" height="26"/><text x="1641.2" y="3906.8">peewee</text></g>
<g id="n_sqlalchemy" class="o"><rect x="1604.1" y="3955" width="74.2" height="26"/><text x="1641.2" y="3968">SQLAlchemy</text></g>
<g id="n_djangoorm" class="o"><rect x="1604.1" y="4016.2" width="74.2" height="26"/><text x="1641.2" y="4029.2">Django ORM</text></g>
<g id="n_analyze" class="o"><rect x="1732.8" y="3955" width="147" height="26"/><text x="1806.3" y="3968">Analyze an execution plan</text></g>

<!-- ===== Net ===== -->
<g id="c_Net" class="c"><rect x="655.8" y="4238.3" width="592.4" height="492.4"/><text x="952" y="4245.5">Net</text></g>
<g id="c_HTTP" class="c"><rect x="674.4" y="4416.3" width="80.3" height="136.4"/><text x="714.5" y="4423">HTTP</text></g>
<g id="c_Frameworks" class="c"><rect x="984.4" y="4385.3" width="85" height="198"/><text x="1026.9" y="4393">Frameworks</text></g>
<g id="c_API" class="c"><rect x="1105.8" y="4263.3" width="124.5" height="442"/><text x="1168" y="4271">API</text></g>
<g id="n_https" class="g"><rect x="692.4" y="4441.2" width="44.3" height="26"/><text x="714.6" y="4454.2">HTTPS</text></g>
<g id="n_cors" class="p"><rect x="695.6" y="4502" width="38" height="26"/><text x="714.6" y="4515">CORS</text></g>
<g id="n_requests" class="g"><rect x="790.3" y="4471.5" width="55.7" height="26"/><text x="818.2" y="4484.5">requests</text></g>
<g id="n_websocket" class="g"><rect x="881.6" y="4471.5" width="66.4" height="26"/><text x="914.8" y="4484.5">websocket</text></g>
<g id="n_flask" class="g"><rect x="1007.9" y="4410.7" width="38" height="26"/><text x="1026.9" y="4423.7">Flask</text></g>
<g id="n_aiohttp" class="p"><rect x="1002.4" y="4471.7" width="49" height="26"/><text x="1026.9" y="4484.7">aiohttp</text></g>
<g id="n_django" class="o"><rect x="1003.2" y="4532.8" width="47.4" height="26"/><text x="1026.9" y="4545.8">Django</text></g>
<g id="n_rest" class="g"><rect x="1149.4" y="4288.5" width="37.2" height="26"/><text x="1168" y="4301.5">REST</text></g>
<g id="n_postman" class="g"><rect x="1140.5" y="4349.5" width="55" height="26"/><text x="1168" y="4362.5">Postman</text></g>
<g id="n_auth" class="p"><rect x="1123.9" y="4410.7" width="88.2" height="26"/><text x="1168" y="4423.7">Authentication</text></g>
<g id="n_jwt" class="p"><rect x="1132.8" y="4471.7" width="70.4" height="26"/><text x="1168" y="4484.7">JWT tokens</text></g>
<g id="n_swagger" class="p"><rect x="1141.3" y="4532.7" width="53.4" height="26"/><text x="1168" y="4545.7">Swagger</text></g>
<g id="n_fastapi" class="o"><rect x="1143.3" y="4593.5" width="49.4" height="26"/><text x="1168" y="4606.5">FastAPI</text></g>
<g id="n_graphql" class="o"><rect x="1140.1" y="4654.5" width="55.8" height="26"/><text x="1168" y="4667.5">GraphQL</text></g>

<!-- ===== Architecture ===== -->
<g id="c_Architecture" class="c"><rect x="143.5" y="4766.7" width="1616" height="492.7"/><text x="951.5" y="4774.5">Architecture</text></g>
<g id="c_Principles" class="c"><rect x="252.4" y="4835.3" width="376.5" height="355.7"/><text x="440.6" y="4842.5">Principles</text></g>
<g id="c_SOLID" class="c"><rect x="271.2" y="4860.3" width="339.9" height="61.4"/><text x="441.2" y="4868">SOLID</text></g>
<g id="c_Paradigms" class="c"><rect x="665.5" y="4883.3" width="130.7" height="259"/><text x="730.8" y="4891.5">Paradigms</text></g>
<g id="c_Object_oriented" class="c"><rect x="832.9" y="4883.3" width="119.2" height="259"/><text x="892.5" y="4891.5">Object-oriented</text></g>
<g id="c_Design_Patterns" class="c"><rect x="987.6" y="4792.3" width="149.6" height="441.7"/><text x="1062.4" y="4800">Design_Patterns</text></g>
<g id="c_Microservices" class="c"><rect x="1173.8" y="4827.7" width="198.7" height="370.6"/><text x="1273.2" y="4835.5">Microservices</text></g>
<g id="c_Messaging" class="c"><rect x="1214.7" y="5036" width="118.1" height="137"/><text x="1273.7" y="5043.5">Messaging</text></g>
<g id="c_System_Design" class="c"><rect x="1410.2" y="4853.3" width="210.2" height="319.7"/><text x="1515.3" y="4860.5">System_Design</text></g>
<g id="c_Practices" class="c"><rect x="1657" y="4914" width="84.7" height="197.7"/><text x="1699.3" y="4921.7">Practices</text></g>
<g id="n_whatis" class="g"><rect x="161.4" y="5000.2" width="54.4" height="26"/><text x="188.6" y="5013.2">What is?</text></g>
<g id="n_srp" class="g"><rect x="296.3" y="4878" width="29.3" height="26"/><text x="311" y="4891">SRP</text></g>
<g id="n_ocp" class="g"><rect x="362.2" y="4878" width="32.4" height="26"/><text x="378.4" y="4891">OCP</text></g>
<g id="n_lsp" class="g"><rect x="431.1" y="4878" width="29.3" height="26"/><text x="445.8" y="4891">LSP</text></g>
<g id="n_isp" class="g"><rect x="496.1" y="4878" width="27.2" height="26"/><text x="509.7" y="4891">ISP</text></g>
<g id="n_dip" class="g"><rect x="558.8" y="4878" width="28.3" height="26"/><text x="573" y="4891">DIP</text></g>
<g id="n_coupling" class="g"><rect x="381.5" y="4957.3" width="118.2" height="26"/><text x="440.6" y="4970.3">Coupling vs cohesion</text></g>
<g id="n_kiss" class="p"><rect x="424.9" y="5018.2" width="31.4" height="26"/><text x="440.6" y="5031.2">KISS</text></g>
<g id="n_dry" class="p"><rect x="424.9" y="5079.2" width="31.4" height="26"/><text x="440.6" y="5092.2">DRY</text></g>
<g id="n_yagni" class="p"><rect x="419.7" y="5140.2" width="41.8" height="26"/><text x="440.6" y="5153.2">YAGNI</text></g>
<g id="n_procedural" class="g"><rect x="697.8" y="4908.3" width="66" height="26"/><text x="730.8" y="4921.3">Procedural</text></g>
<g id="n_structured" class="p"><rect x="698.4" y="4969.5" width="64.8" height="26"/><text x="730.8" y="4982.5">Structured</text></g>
<g id="n_oop_paradigm" class="g"><rect x="683.7" y="5030.7" width="94.2" height="26"/><text x="730.8" y="5043.7">Object-oriented</text></g>
<g id="n_functional" class="o"><rect x="697.8" y="5091.7" width="66" height="26"/><text x="730.8" y="5104.7">Functional</text></g>
<g id="n_oo_inheritance" class="g"><rect x="857.5" y="4908.3" width="70" height="26"/><text x="892.5" y="4921.3">Inheritance</text></g>
<g id="n_encapsulation" class="g"><rect x="850.6" y="4969.3" width="83.7" height="26"/><text x="892.5" y="4982.3">Encapsulation</text></g>
<g id="n_polymorphism" class="g"><rect x="850.6" y="5030.7" width="83.7" height="26"/><text x="892.5" y="5043.7">Polymorphism</text></g>
<g id="n_abstraction" class="g"><rect x="857.5" y="5091.7" width="70" height="26"/><text x="892.5" y="5104.7">Abstraction</text></g>
<g id="n_observer" class="g"><rect x="1033.1" y="4817.2" width="58.6" height="26"/><text x="1062.4" y="4830.2">Observer</text></g>
<g id="n_dp_decorator" class="g"><rect x="1031.1" y="4878.2" width="62.7" height="26"/><text x="1062.4" y="4891.2">Decorator</text></g>
<g id="n_factory" class="g"><rect x="1016.4" y="4939.2" width="92.1" height="26"/><text x="1062.4" y="4952.2">Factory Method</text></g>
<g id="n_adapter" class="g"><rect x="1014.3" y="5000.2" width="96.3" height="26"/><text x="1062.4" y="5013.2">Adapter, Facade</text></g>
<g id="n_creational" class="o"><rect x="1005.9" y="5061.2" width="113" height="26"/><text x="1062.4" y="5074.2">Creational patterns</text></g>
<g id="n_structural" class="o"><rect x="1006.9" y="5122.2" width="111" height="26"/><text x="1062.4" y="5135.2">Structural patterns</text></g>
<g id="n_behavioral" class="o"><rect x="1005.9" y="5183.2" width="113" height="26"/><text x="1062.4" y="5196.2">Behavioral patterns</text></g>
<g id="n_decentral" class="g"><rect x="1224.6" y="4852.8" width="97.3" height="26"/><text x="1273.2" y="4865.8">Decentralization</text></g>
<g id="n_smartendpoints" class="g"><rect x="1191.1" y="4913.8" width="164.2" height="26"/><text x="1273.2" y="4926.8">Smart endpoints, dumb pipes</text></g>
<g id="n_designfailure" class="p"><rect x="1223" y="4974.8" width="100.4" height="26"/><text x="1273.2" y="4987.8">Design for failure</text></g>
<g id="n_rabbitmq" class="o"><rect x="1242.9" y="5061.2" width="60.6" height="26"/><text x="1273.2" y="5074.2">RabbitMQ</text></g>
<g id="n_kafka" class="o"><rect x="1232.4" y="5122.2" width="81.6" height="26"/><text x="1273.2" y="5135.2">Apache Kafka</text></g>
<g id="n_cqrs" class="g"><rect x="1496" y="4878.2" width="38.7" height="26"/><text x="1515.3" y="4891.2">CQRS</text></g>
<g id="n_twophase" class="p"><rect x="1461.5" y="4938.8" width="107.7" height="26"/><text x="1515.3" y="4951.8">Two-Phase Commit</text></g>
<g id="n_loadbalanced" class="p"><rect x="1448.9" y="5000" width="132.8" height="26"/><text x="1515.3" y="5013">Load-Balanced Services</text></g>
<g id="n_distpatterns" class="o"><rect x="1428" y="5061.2" width="174.6" height="26"/><text x="1515.3" y="5074.2">Patterns of Distributed Systems</text></g>
<g id="n_clouddesign" class="o"><rect x="1453.6" y="5122.2" width="123.5" height="26"/><text x="1515.3" y="5135.2">Cloud Design Patterns</text></g>
<g id="n_agile" class="p"><rect x="1681.5" y="4938.8" width="35.6" height="26"/><text x="1699.3" y="4951.8">Agile</text></g>
<g id="n_scrum" class="o"><rect x="1677.9" y="5000.2" width="42.8" height="26"/><text x="1699.3" y="5013.2">Scrum</text></g>
<g id="n_kanban" class="p"><rect x="1674.7" y="5060.8" width="49.2" height="26"/><text x="1699.3" y="5073.8">Kanban</text></g>

<!-- ===== DevOps ===== -->
<g id="c_DevOps" class="c"><rect x="511.6" y="5295.5" width="880.4" height="492.9"/><text x="951.8" y="5303.5">DevOps</text></g>
<g id="c_git" class="c"><rect x="530.2" y="5412.4" width="98.1" height="258.8"/><text x="579.3" y="5420.3">git</text></g>
<g id="c_Linux" class="c"><rect x="664.8" y="5321.5" width="169.5" height="440.9"/><text x="749.5" y="5328.5">Linux</text></g>
<g id="c_Development_lifecycle" class="c"><rect x="871.4" y="5473.4" width="180.5" height="137.1"/><text x="961.6" y="5481.1">Development_lifecycle</text></g>
<g id="c_CI_CD" class="c"><rect x="1088.5" y="5412.4" width="143.9" height="258.8"/><text x="1160.4" y="5420.3">CI_CD</text></g>
<g id="c_Containers" class="c"><rect x="1269" y="5473.4" width="105" height="137.1"/><text x="1321.5" y="5481.1">Containers</text></g>
<g id="n_basics" class="g"><rect x="558" y="5437.5" width="42.4" height="26"/><text x="579.2" y="5450.5">Basics</text></g>
<g id="n_branching" class="p"><rect x="548.2" y="5498.5" width="62.1" height="26"/><text x="579.2" y="5511.5">Branching</text></g>
<g id="n_tools" class="p"><rect x="561" y="5559.5" width="36.5" height="26"/><text x="579.2" y="5572.5">Tools</text></g>
<g id="n_github" class="g"><rect x="555.7" y="5620" width="47" height="26"/><text x="579.2" y="5633">GitHub</text></g>
<g id="n_install" class="g"><rect x="728.1" y="5346" width="42.9" height="26"/><text x="749.5" y="5359">Install</text></g>
<g id="n_dirstructure" class="g"><rect x="693.8" y="5407" width="111.5" height="26"/><text x="749.5" y="5420">Directory Structure</text></g>
<g id="n_terminal" class="g"><rect x="721.4" y="5467.8" width="56.3" height="26"/><text x="749.5" y="5480.8">Terminal</text></g>
<g id="n_inputoutput" class="p"><rect x="709.5" y="5529" width="80.1" height="26"/><text x="749.5" y="5542">Input/Output</text></g>
<g id="n_bash" class="o"><rect x="732.1" y="5589.9" width="34.9" height="26"/><text x="749.5" y="5602.9">bash</text></g>
<g id="n_sysadmin" class="o"><rect x="685.7" y="5650.9" width="127.7" height="26"/><text x="749.5" y="5663.9">System administration</text></g>
<g id="n_netadmin" class="o"><rect x="682.8" y="5712" width="133.5" height="26"/><text x="749.5" y="5725">Network administration</text></g>
<g id="n_gitflow" class="p"><rect x="934.9" y="5498.5" width="53.4" height="26"/><text x="961.6" y="5511.5">Git-flow</text></g>
<g id="n_trunk" class="g"><rect x="888.8" y="5559.3" width="145.7" height="26"/><text x="961.6" y="5572.3">Trunk-based development</text></g>
<g id="n_conttesting" class="p"><rect x="1106.7" y="5437.4" width="107.4" height="26"/><text x="1160.4" y="5450.4">Continuous testing</text></g>
<g id="n_ghactions" class="g"><rect x="1116" y="5498.3" width="88.8" height="26"/><text x="1160.4" y="5511.3">GitHub Actions</text></g>
<g id="n_jenkins" class="o"><rect x="1135.7" y="5559.3" width="49.4" height="26"/><text x="1160.4" y="5572.3">Jenkins</text></g>
<g id="n_newrelic" class="o"><rect x="1129.4" y="5620" width="62.1" height="26"/><text x="1160.4" y="5633">New Relic</text></g>
<g id="n_docker" class="o"><rect x="1298.3" y="5498.5" width="46.4" height="26"/><text x="1321.5" y="5511.5">Docker</text></g>
<g id="n_kubernetes" class="o"><rect x="1286.7" y="5559.3" width="69.6" height="26"/><text x="1321.5" y="5572.3">Kubernetes</text></g>

<!-- ===== Connectors ===== -->
<g id="connectors">
<path class="d" d="M409,221.3H445"/>
<path class="d" d="M554.4,221.3H591"/>
<path class="d" d="M714.3,221.3H750.3"/>
<path class="d" d="M849.8,221.3H886.5"/>
<path class="d" d="M983,221.3H1019.7"/>
<path class="d" d="M1155.9,221.3H1192.6"/>
<path class="d" d="M1315.9,221.3H1352.6"/>
<path class="s" d="M951.5,437.3V473.3"/>
<path class="d" d="M326,689.2H363"/>
<path class="d" d="M442.2,689.2H479.2"/>
<path class="d" d="M559.2,689.2H595.3"/>
<path class="d" d="M731.7,689.2H767.8"/>
<path class="d" d="M888.4,689.2H923.6"/>
<path class="d" d="M965.9,689.2H1002.8"/>
<path class="d" d="M1086.4,689.2H1122.5"/>
<path class="d" d="M1252.8,689.2H1288.9"/>
<path class="d" d="M1436.7,689.2H1472.8"/>
<path class="s" d="M951.5,905V941"/>
<path class="d" d="M896.2,1120H933"/>
<path class="d" d="M999.6,1120H1036.4"/>
<path class="d" d="M1195.3,1120H1231.2"/>
<path class="d" d="M1408.1,1120H1444"/>
<path class="s" d="M951.5,1298.3V1334.3"/>
<path class="d" d="M633,1550.3H669.5"/>
<path class="d" d="M804.8,1550.3H841.3"/>
<path class="d" d="M962,1550.3H998.5"/>
<path class="d" d="M1112.6,1550.3H1149"/>
<path class="d" d="M1301,1550.3H1337.4"/>
<path class="s" d="M951.5,1766.7V1802.3"/>
<path class="d" d="M682.5,2017.7H718.9"/>
<path class="d" d="M864.4,2017.7H900.8"/>
<path class="d" d="M1062.7,2017.7H1098.5"/>
<path class="d" d="M1205.3,2017.7H1241.7"/>
<path class="s" d="M951.5,2234V2270.1"/>
<path class="d" d="M637.3,2516.2H673.8"/>
<path class="d" d="M1112.9,2516.2H1149.3"/>
<path class="d" d="M1239.7,2516.2H1276.1"/>
<path class="s" d="M951.5,2762.3V2798.3"/>
<path class="d" d="M614.4,3014.3H651.2"/>
<path class="d" d="M766.6,3014.3H802.8"/>
<path class="d" d="M889,3014.3H925.1"/>
<path class="d" d="M1107.3,3014.3H1143.4"/>
<path class="d" d="M1250.5,3014.3H1286.6"/>
<path class="d" d="M1356.1,3014.3H1392.3"/>
<path class="s" d="M951.5,3230V3266"/>
<path class="d" d="M605.8,3482.5H642.2"/>
<path class="d" d="M675.9,3482.5H712.4"/>
<path class="d" d="M826.3,3482.5H862.8"/>
<path class="d" d="M1000.3,3482.5H1037.4"/>
<path class="d" d="M1154.7,3482.5H1190.6"/>
<path class="s" d="M1259.5,3427C1240,3447 1245,3451.5 1271,3451.5C1298,3451.5 1303,3446 1289,3428"/>
<path class="s" d="M951.5,3697.7V3734"/>
<path class="d" d="M274.4,3968.3H312"/>
<path class="d" d="M987.3,3968.3H1024.9"/>
<path class="d" d="M1185.2,3968.3H1222.8"/>
<path class="d" d="M1362.5,3968.3H1400.1"/>
<path class="d" d="M1548.3,3968.3H1585.9"/>
<path class="d" d="M1696.4,3968.3H1732.8"/>
<path class="s" d="M951.5,4201.7V4238.3"/>
<path class="d" d="M754.7,4484.3H790.3"/>
<path class="d" d="M846,4484.3H881.6"/>
<path class="d" d="M948,4484.3H984.4"/>
<path class="d" d="M1069.4,4484.3H1105.8"/>
<path class="s" d="M951.5,4730.7V4766.7"/>
<path class="d" d="M215.8,5013.3H252.4"/>
<path class="d" d="M628.9,5013.3H665.5"/>
<path class="d" d="M796.2,5013.3H832.9"/>
<path class="d" d="M952.1,5013.3H987.6"/>
<path class="d" d="M1137.2,5013.3H1173.8"/>
<path class="d" d="M1372.5,5013.3H1410.2"/>
<path class="d" d="M1620.4,5013.3H1657"/>
<path class="s" d="M951.5,5259.4V5295.5"/>
<path class="d" d="M628.3,5541.4H664.8"/>
<path class="d" d="M834.3,5541.4H871.4"/>
<path class="d" d="M1051.9,5541.4H1088.5"/>
<path class="d" d="M1232.4,5541.4H1269"/>
</g>
</svg>
